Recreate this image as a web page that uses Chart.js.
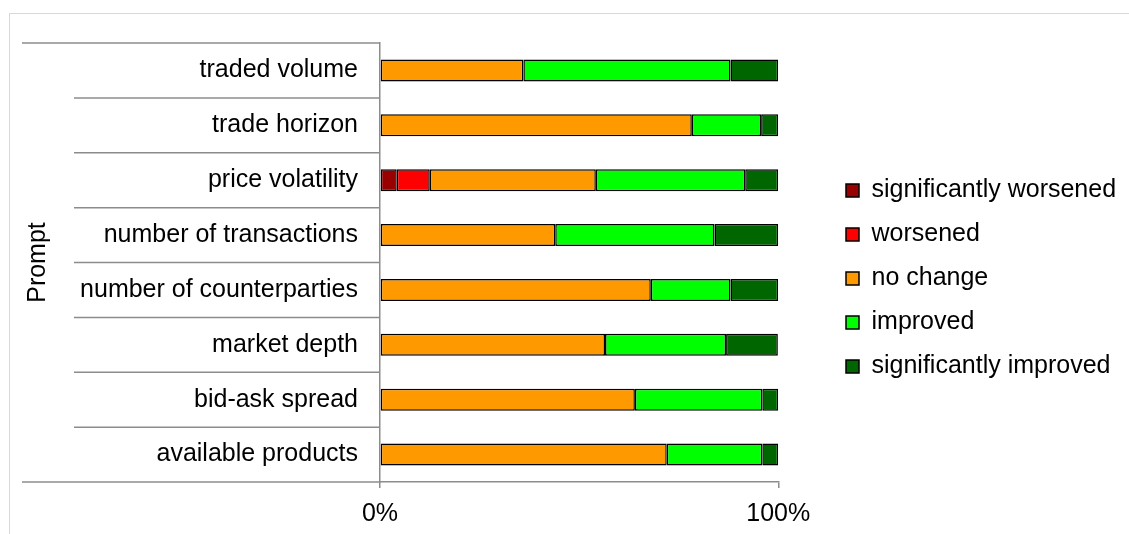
<!DOCTYPE html>
<html>
<head>
<meta charset="utf-8">
<script src="https://cdn.jsdelivr.net/npm/chart.js@4"></script>
<style>
  html, body { margin: 0; padding: 0; background: #fff; overflow: hidden; }
  #frame { position: absolute; left: 9px; top: 13px; width: 1300px; height: 700px; border: 1px solid #d9d9d9; }
  #wrap { position: absolute; left: 0; top: 0; width: 1129px; height: 534px; }
</style>
</head>
<body>
<div id="frame"></div>
<div id="wrap"><canvas id="chart"></canvas></div>
<script>
const categories = [
    'traded volume',
    'trade horizon',
    'price volatility',
    'number of transactions',
    'number of counterparties',
    'market depth',
    'bid-ask spread',
    'available products'
]

// share of answers in percent, per category
const sigWorsened = [0, 0, 4.2, 0, 0, 0, 0, 0]
const worsened    = [0, 0, 8.3, 0, 0, 0, 0, 0]
const noChange    = [36, 78.3, 41.7, 44, 68, 56.5, 64, 72]
const improved    = [52, 17.4, 37.5, 40, 20, 30.4, 32, 24]
const sigImproved = [12, 4.3, 8.3, 16, 12, 13.0, 4, 4]

const seriesNames = ['significantly worsened', 'worsened', 'no change', 'improved', 'significantly improved']
const seriesColors = ['#990000', '#ff0000', '#ff9900', '#00ff00', '#006600']
const xTicks = [0, 100]

const FONT = "'Liberation Sans', Arial, sans-serif"
const LEFT_PAD = 20
const AXIS_X = 380
const LEGEND_BOX_X = 847

Chart.defaults.font.family = FONT
Chart.defaults.color = '#000'

// horizontal separators between category labels
const dividers = {
    id: 'dividers',
    afterDraw(chart) {
        const y = chart.scales.y
        const ctx = chart.ctx
        ctx.save()
        ctx.strokeStyle = '#8c8c8c'
        ctx.lineWidth = 1.5
        for (let i = 0; i <= categories.length; i++) {
            const py = y.getPixelForValue(i - 0.5)
            const x0 = (i === 0 || i === categories.length) ? 22 : 74
            ctx.beginPath()
            ctx.moveTo(x0, py)
            ctx.lineTo(y.right, py)
            ctx.stroke()
        }
        ctx.restore()
    }
}

// nudge the legend a bit away from the plot, and give it room
const legendShift = {
    id: 'legendShift',
    afterLayout(chart) {
        const lg = chart.legend
        const dx = LEGEND_BOX_X - (lg.left + 20)
        lg.left += dx
        lg.right = chart.width
        lg.width = lg.right - lg.left
        lg.top -= 6
        lg.bottom -= 6
    }
}

const values = [sigWorsened, worsened, noChange, improved, sigImproved]

const data = {
    labels: categories,
    datasets: seriesNames.map((name, i) => ({
        label: name,
        data: values[i],
        backgroundColor: seriesColors[i],
        borderColor: '#000',
        borderWidth: 1.5,
        borderSkipped: false,
        barPercentage: 0.4,
        categoryPercentage: 1
    }))
}

const config = {
    type: 'bar',
    data: data,
    plugins: [dividers, legendShift],
    options: {
        indexAxis: 'y',
        responsive: true,
        maintainAspectRatio: false,
        animation: false,
        layout: { padding: { left: LEFT_PAD, top: 43, bottom: 8, right: 98 } },
        plugins: {
            tooltip: { enabled: false },
            legend: {
                position: 'right',
                align: 'center',
                labels: {
                    font: { size: 25 },
                    boxWidth: 13,
                    boxHeight: 13,
                    padding: 19
                }
            }
        },
        scales: {
            x: {
                stacked: true,
                min: 0,
                max: 100,
                afterBuildTicks: (scale) => { scale.ticks = xTicks.map(v => ({ value: v })) },
                afterFit: (scale) => { scale.height = 44 },
                ticks: {
                    font: { size: 25 },
                    padding: 11,
                    callback: (v) => v + '%'
                },
                grid: { drawOnChartArea: false, tickLength: 6, color: '#8c8c8c', lineWidth: 1.5 },
                border: { color: '#8c8c8c', width: 1.5 }
            },
            y: {
                stacked: true,
                afterFit: (scale) => { scale.width = AXIS_X - LEFT_PAD },
                title: {
                    display: true,
                    text: 'Prompt',
                    font: { size: 25 },
                    padding: { top: 3, bottom: 4 }
                },
                ticks: { font: { size: 25 }, padding: 14 },
                grid: { display: false },
                border: { color: '#8c8c8c', width: 1.5 }
            }
        }
    }
}

new Chart(document.getElementById('chart'), config)
</script>
</body>
</html>
